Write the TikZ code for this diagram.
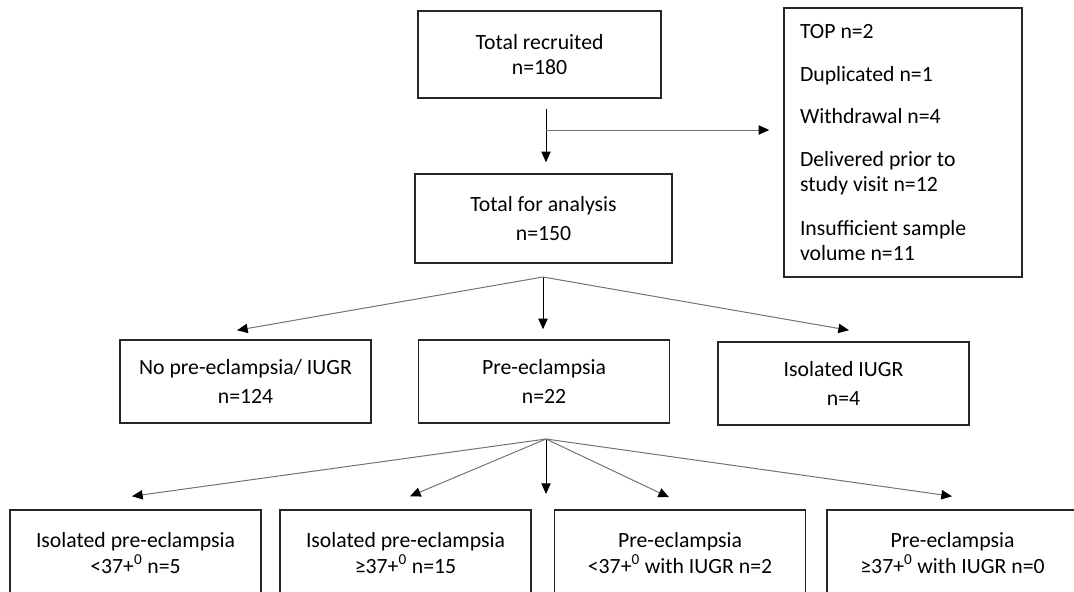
\documentclass[tikz,border=0pt]{standalone}
\usepackage{fontspec}
\setmainfont{Carlito}
\usetikzlibrary{calc, positioning, arrows.meta}

\tikzset{
  box/.style={draw=black!85, line width=1.1pt, align=center, inner sep=0pt,
    minimum width=188.25pt, minimum height=62.25pt,
    font=\fontsize{16.3}{18.5}\selectfont},
  arr/.style={line width=0.75pt, -{Triangle[length=8pt,width=7pt,color=black]}},
  garr/.style={arr, draw=black!55},
}

\begin{document}
\begin{tikzpicture}[x=0.75pt, y=-0.75pt]
\useasboundingbox (0,0) rectangle (1074,592);

% Recruitment and exclusions
\node[box, minimum width=182.25pt, minimum height=65.25pt] (recruited) at (539.5,54.5) {Total recruited\\n=180};
\node[box, minimum width=192.75pt, minimum height=66.75pt] (analysis) at (543.5,218.5) {Total for analysis\\[3.5pt]n=150};
\node[box, align=flush left, text width=154.5pt, inner xsep=12pt, minimum width=178.5pt, minimum height=201.75pt] (excluded) at (903,142.5)
  {TOP n=2\\[13.5pt]Duplicated n=1\\[13.5pt]Withdrawal n=4\\[13.5pt]Delivered prior to\\study visit n=12\\[15pt]Insufficient sample\\volume n=11};
\coordinate (split) at (546,130);
\draw[arr, shorten <=7.5pt, shorten >=8.25pt] (recruited.south -| split) -- (analysis.north -| split);
\draw[garr, shorten >=10.5pt] (split) -- (excluded.west |- split);

% Outcome groups
\node[box] (nope) at (245.5,381.5) {No pre-eclampsia/ IUGR\\[3.5pt]n=124};
\node[box] (pe) at (544,381.5) {Pre-eclampsia\\[3.5pt]n=22};
\node[box] (iugr) at (843.5,383.5) {Isolated IUGR\\[3.5pt]n=4};
\coordinate (fork1) at (543,277);
\draw[garr] (fork1) -- ($(nope.north)+(-8.5,-9)$);
\draw[arr, shorten >=7.5pt] (fork1) -- (fork1 |- pe.north);
\draw[garr] (fork1) -- ($(iugr.north)+(5.5,-11)$);

% Pre-eclampsia subgroups
\node[box, minimum height=64.5pt] (isoearly) at (135.5,553) {Isolated pre-eclampsia\\[0.75pt]<37+\textsuperscript{0} n=5};
\node[box, minimum height=64.5pt] (isolate) at (405.5,553) {Isolated pre-eclampsia\\[0.75pt]≥37+\textsuperscript{0} n=15};
\node[box, minimum height=64.5pt] (iugrearly) at (680,553) {Pre-eclampsia\\[0.75pt]<37+\textsuperscript{0} with IUGR n=2};
\node[box, minimum height=64.5pt] (iugrlate) at (952.5,553) {Pre-eclampsia\\[0.75pt]≥37+\textsuperscript{0} with IUGR n=0};
\coordinate (fork2) at (546,439);
\coordinate (gap) at (546,494);
\draw[garr] (fork2) -- ($(isoearly.north)+(-3.5,-13)$);
\draw[garr] (fork2) -- ($(isolate.north)+(4.5,-13)$);
\draw[arr] (fork2) -- (gap);
\draw[garr] (fork2) -- ($(iugrearly.north)+(-11,-12)$);
\draw[garr] (fork2) -- ($(iugrlate.north)+(-0.5,-13)$);
\end{tikzpicture}
\end{document}
